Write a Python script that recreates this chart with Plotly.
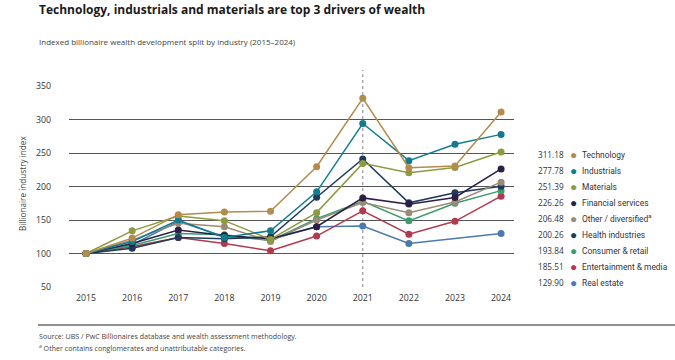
import plotly.graph_objects as go

years = [2015, 2016, 2017, 2018, 2019, 2020, 2021, 2022, 2023, 2024]

technology = [100, 123, 158, 162, 163, 229.5, 331.7, 228, 230.5, 311.18]
industrials = [100, 118, 150, 124, 134, 192, 294, 238.5, 263, 277.78]
materials = [100, 133.8, 156, 149, 121, 161, 234.5, 220.5, 228.5, 251.39]
financial = [100, 115, 135, 127, 122, 140, 183, 173.7, 183.7, 226.26]
other = [100, 120, 145, 140, 118, 150, 176, 161, 177, 206.48]
health = [100, 108, 124, 122, 125, 184, 241, 175.6, 190.6, 200.26]
consumer = [100, 112, 130, 128, 119, 152, 178, 148.7, 175, 193.84]
entertainment = [100, 110, 124, 115, 104, 126, 163.7, 128.8, 148, 185.51]
real_estate = [100, 113, 148, 125, 121, 140, 141, 115, None, 129.90]

series_names = ["Technology", "Industrials", "Materials", "Financial services",
                "Other / diversified<sup>a</sup>", "Health industries", "Consumer & retail",
                "Entertainment & media", "Real estate"]
series_values = [technology, industrials, materials, financial, other, health,
                 consumer, entertainment, real_estate]
legend_values = ["311.18", "277.78", "251.39", "226.26", "206.48", "200.26",
                 "193.84", "185.51", "129.90"]
colors = ["#B38B4D", "#127C8E", "#8C9B3E", "#2C1F47", "#9B8B76", "#1E3B5A",
          "#3C9C6E", "#B23A4C", "#4A7AAE"]

y_ticks = [50, 100, 150, 200, 250, 300, 350]

fig = go.Figure()

for name, vals, col in reversed(list(zip(series_names, series_values, colors))):
    fig.add_trace(go.Scatter(
        x=years, y=vals, mode="lines+markers", name=name,
        line=dict(color=col, width=1.5),
        marker=dict(color=col, size=7),
        connectgaps=True, showlegend=False, hoverinfo="x+y+name"))

W, H = 675, 360
PL, PR, PT, PB = 69, 514, 86, 287
L = PL
R = W - PR
T = PT
B = H - PB
pw = PR - PL
ph = PB - PT

def fx(px):
    return (px - PL) / pw

def fy(py):
    return (PB - py) / ph

annotations = []
for i, (name, val, col) in enumerate(zip(series_names, legend_values, colors)):
    py = 154.5 + 16.05 * i
    yy = fy(py)
    annotations.append(dict(xref="paper", yref="paper", x=fx(566), y=yy,
                            text=val, showarrow=False, xanchor="right", yanchor="middle",
                            font=dict(size=8.2, color="#333333")))
    annotations.append(dict(xref="paper", yref="paper", x=fx(573), y=yy,
                            text="●", showarrow=False, xanchor="center", yanchor="middle",
                            font=dict(size=12, color=col)))
    annotations.append(dict(xref="paper", yref="paper", x=fx(580), y=yy,
                            text=name, showarrow=False, xanchor="left", yanchor="middle",
                            font=dict(size=8.4, color="#333333", family="Roboto")))

annotations.append(dict(xref="paper", yref="paper", x=fx(37), y=fy(10),
                        text="<b>Technology, industrials and materials are top 3 drivers of wealth</b>",
                        showarrow=False, xanchor="left", yanchor="middle",
                        font=dict(size=12, color="#1a1a1a")))
annotations.append(dict(xref="paper", yref="paper", x=fx(37), y=fy(41),
                        text="Indexed billionaire wealth development split by industry (2015–2024)",
                        showarrow=False, xanchor="left", yanchor="middle",
                        font=dict(size=8, color="#444444")))
annotations.append(dict(xref="paper", yref="paper", x=fx(37), y=fy(336),
                        text="Source: UBS / PwC Billionaires database and wealth assessment methodology.",
                        showarrow=False, xanchor="left", yanchor="middle",
                        font=dict(size=7.1, color="#444444")))
annotations.append(dict(xref="paper", yref="paper", x=fx(37), y=fy(347.5),
                        text="<sup>a</sup> Other contains conglomerates and unattributable categories.",
                        showarrow=False, xanchor="left", yanchor="middle",
                        font=dict(size=7.1, color="#444444")))
annotations.append(dict(xref="paper", yref="paper", x=fx(22), y=fy(184),
                        text="Billionaire industry index", textangle=-90,
                        showarrow=False, xanchor="center", yanchor="middle",
                        font=dict(size=8.2, color="#444444")))

shapes = [
    dict(type="line", xref="x", yref="paper", x0=2021, x1=2021, y0=0, y1=fy(70),
         line=dict(color="#999999", width=1.2, dash="dot"), layer="below"),
    dict(type="line", xref="paper", yref="paper", x0=fx(38), x1=fx(675),
         y0=fy(325), y1=fy(325), line=dict(color="#222222", width=1.2)),
]

fig.update_layout(
    width=W, height=H,
    margin=dict(l=L, r=R, t=T, b=B, autoexpand=False),
    paper_bgcolor="white", plot_bgcolor="white",
    font=dict(family="Open Sans", size=9, color="#333333"),
    annotations=annotations, shapes=shapes,
    xaxis=dict(range=[2014.63, 2024.28], tickvals=years, ticktext=[str(y) for y in years],
               showgrid=False, zeroline=False, showline=False, ticks="", ticklabelstandoff=4,
               tickfont=dict(size=8.8, color="#333333"), fixedrange=True),
    yaxis=dict(range=[50, 350], tickvals=y_ticks, showgrid=True, gridcolor="#555555",
               gridwidth=1.2, zeroline=False, showline=False, ticks="", ticklabelstandoff=17,
               tickfont=dict(size=8.8, color="#333333"), fixedrange=True),
)

fig.write_html("out.html", config={"displayModeBar": False},
               post_script="document.body.style.margin='0';document.body.style.overflow='hidden';")
